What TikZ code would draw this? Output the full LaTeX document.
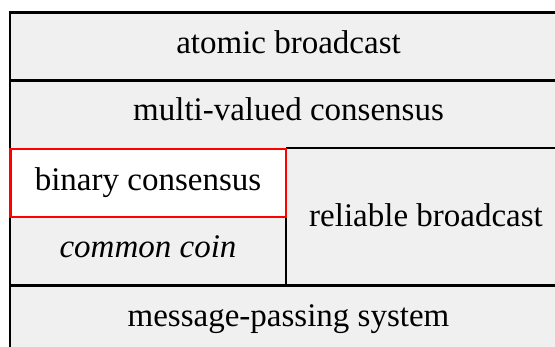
\documentclass[tikz,border=0pt]{standalone}
\usepackage{fontspec}
\setmainfont{Liberation Serif}
\definecolor{cellgray}{HTML}{F0F0F0}
\definecolor{boxred}{HTML}{FF0000}
\tikzset{
  lbl/.style={anchor=base, inner sep=0pt, font=\fontsize{33}{40}\selectfont},
  blk/.style={line width=2.7pt, black},
  redbox/.style={line width=2.2pt, draw=boxred, fill=white}
}
\begin{document}
\begin{tikzpicture}[x=1pt,y=-1pt]
\useasboundingbox (0,0) rectangle (555,347);
% background fill
\fill[cellgray] (10,12.5) rectangle (555,347);
% horizontal lines
\draw[blk] (8.65,12.5) -- (555,12.5);
\draw[blk] (10,80.5) -- (555,80.5);
\draw[blk] (286,148) -- (555,148);
\draw[blk] (10,285.3) -- (555,285.3);
% vertical lines
\draw[blk] (10,11.15) -- (10,347);
\draw[blk] (286,148) -- (286,285.3);
% highlighted box
\draw[redbox] (10.4,149) rectangle (286,216.7);
% labels
\node[lbl] (atomic) at (288.5,53.3) {atomic broadcast};
\node[lbl] (multi) at (288.5,120.7) {multi-valued consensus};
\node[lbl] (binary) at (148,191) {binary consensus};
\node[lbl] (coin) at (148,258) {\itshape common coin};
\node[lbl] (reliable) at (426,227) {reliable broadcast};
\node[lbl] (msg) at (288.5,327) {message-passing system};
\end{tikzpicture}
\end{document}
